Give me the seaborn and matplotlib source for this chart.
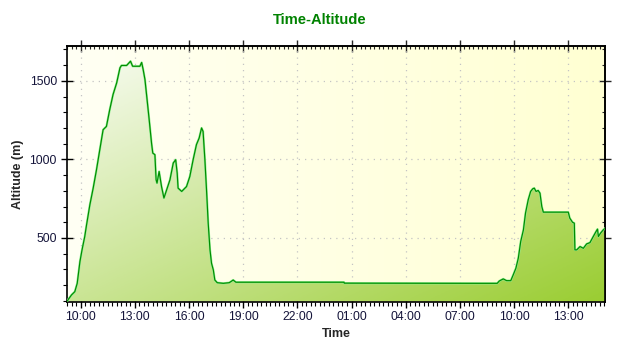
import numpy as np
import pandas as pd
import matplotlib
matplotlib.use("Agg")
import matplotlib.pyplot as plt
import matplotlib.dates as mdates
from matplotlib.colors import LinearSegmentedColormap
from matplotlib.ticker import MultipleLocator, FixedLocator, NullFormatter
import seaborn as sns

# ---------------- data ----------------
times = [
    "2020-06-01 09:14", "2020-06-01 09:30", "2020-06-01 09:41", "2020-06-01 09:49",
    "2020-06-01 09:58", "2020-06-01 10:05", "2020-06-01 10:14", "2020-06-01 10:20",
    "2020-06-01 10:31", "2020-06-01 10:42", "2020-06-01 10:53", "2020-06-01 11:04",
    "2020-06-01 11:15", "2020-06-01 11:26", "2020-06-01 11:37", "2020-06-01 11:48",
    "2020-06-01 12:00", "2020-06-01 12:11", "2020-06-01 12:16", "2020-06-01 12:33",
    "2020-06-01 12:46", "2020-06-01 12:53", "2020-06-01 13:17", "2020-06-01 13:23",
    "2020-06-01 13:28", "2020-06-01 13:34", "2020-06-01 13:41", "2020-06-01 13:48",
    "2020-06-01 13:56", "2020-06-01 14:00", "2020-06-01 14:07", "2020-06-01 14:11",
    "2020-06-01 14:14", "2020-06-01 14:21", "2020-06-01 14:29", "2020-06-01 14:37",
    "2020-06-01 14:46", "2020-06-01 14:57", "2020-06-01 15:08", "2020-06-01 15:16",
    "2020-06-01 15:21", "2020-06-01 15:24", "2020-06-01 15:36", "2020-06-01 15:52",
    "2020-06-01 16:03", "2020-06-01 16:14", "2020-06-01 16:25", "2020-06-01 16:34",
    "2020-06-01 16:42", "2020-06-01 16:47", "2020-06-01 16:53", "2020-06-01 16:59",
    "2020-06-01 17:04", "2020-06-01 17:10", "2020-06-01 17:15", "2020-06-01 17:21",
    "2020-06-01 17:26", "2020-06-01 17:34", "2020-06-01 17:54", "2020-06-01 18:14",
    "2020-06-01 18:27", "2020-06-01 18:36", "2020-06-02 00:35", "2020-06-02 00:36",
    "2020-06-02 08:07", "2020-06-02 09:04", "2020-06-02 09:11", "2020-06-02 09:24",
    "2020-06-02 09:35", "2020-06-02 09:49", "2020-06-02 09:57", "2020-06-02 10:06",
    "2020-06-02 10:14", "2020-06-02 10:22", "2020-06-02 10:31", "2020-06-02 10:38",
    "2020-06-02 10:47", "2020-06-02 10:55", "2020-06-02 11:02", "2020-06-02 11:07",
    "2020-06-02 11:13", "2020-06-02 11:20", "2020-06-02 11:26", "2020-06-02 11:32",
    "2020-06-02 11:37", "2020-06-02 13:00", "2020-06-02 13:05", "2020-06-02 13:14",
    "2020-06-02 13:20", "2020-06-02 13:22", "2020-06-02 13:28", "2020-06-02 13:39",
    "2020-06-02 13:50", "2020-06-02 14:01", "2020-06-02 14:12", "2020-06-02 14:23",
    "2020-06-02 14:32", "2020-06-02 14:37", "2020-06-02 14:40", "2020-06-02 14:47",
    "2020-06-02 14:56", "2020-06-02 15:03",
]
altitude = [
    94, 137, 158, 211,
    349, 424, 509, 583,
    711, 817, 934, 1062,
    1189, 1210, 1317, 1413,
    1487, 1583, 1598, 1598,
    1625, 1593, 1593, 1617,
    1572, 1508, 1381, 1253,
    1100, 1040, 1030, 870,
    849, 923, 827, 754,
    806, 870, 977, 998,
    913, 817, 796, 827,
    891, 998, 1094, 1136,
    1200, 1178, 998, 785,
    594, 424, 339, 296,
    232, 215, 211, 215,
    232, 218, 218, 212,
    211, 211, 226, 239,
    228, 228, 264, 307,
    371, 477, 551, 658,
    743, 796, 813, 817,
    796, 802, 785, 700,
    664, 664, 626, 600,
    594, 424, 424, 445,
    434, 462, 470, 509,
    540, 556, 509, 530,
    551, 562,
]
x_start, x_end = "2020-06-01 09:14", "2020-06-02 15:03"
y_min, y_max = 94, 1722
major_hours = [1, 4, 7, 10, 13, 16, 19, 22]

df = pd.DataFrame({"Time": pd.to_datetime(times), "Altitude": altitude})

# ---------------- style ----------------
sns.set_style("ticks")
plt.rcParams["font.family"] = ["Liberation Sans", "DejaVu Sans"]

fig = plt.figure(figsize=(6.4, 3.5), dpi=100)
ax = fig.add_axes([0.1042, 0.138, 0.8416, 0.7306])

# lines (also sets date units)
sns.lineplot(data=df, x="Time", y="Altitude", color="#90ee90", lw=1.6, ax=ax, zorder=3)
sns.lineplot(data=df, x="Time", y="Altitude", color="#008c00", lw=0.85, ax=ax, zorder=4)

xl = mdates.date2num(pd.Timestamp(x_start))
xr = mdates.date2num(pd.Timestamp(x_end))

# background gradient
bg = np.linspace(0, 1, 256)[None, :]
bg_cmap = LinearSegmentedColormap.from_list("bg", ["#fffff4", "#ffffd2"])
ax.imshow(bg, extent=[xl, xr, y_min, y_max], origin="lower", aspect="auto",
          cmap=bg_cmap, zorder=0, interpolation="bilinear")

# gradient fill under curve
X, Y = np.meshgrid(np.linspace(0, 1, 400), np.linspace(0, 1, 250))
S = (X + (1 - Y)) / 2
fill_cmap = LinearSegmentedColormap.from_list("fill", ["#fbfdf8", "#9acd32"])
im = ax.imshow(S, extent=[xl, xr, y_min, y_max], origin="lower", aspect="auto",
               cmap=fill_cmap, zorder=1, interpolation="bilinear")
poly = ax.fill_between(df["Time"], df["Altitude"], y_min, facecolor="none",
                       edgecolor="none", zorder=1)
im.set_clip_path(poly.get_paths()[0], transform=ax.transData)

ax.set_xlim(xl, xr)
ax.set_ylim(y_min, y_max)

# ticks
ax.xaxis.set_major_locator(mdates.HourLocator(byhour=major_hours))
ax.xaxis.set_minor_locator(mdates.MinuteLocator(byminute=[0, 15, 30, 45]))
ax.xaxis.set_major_formatter(mdates.DateFormatter("%H:%M"))
ax.yaxis.set_major_locator(MultipleLocator(500))
ax.yaxis.set_minor_locator(MultipleLocator(100))

ax.tick_params(which="major", direction="inout", length=9, width=1.0,
               color="black", labelcolor="#14143a", labelsize=8.7, pad=2.5)
ax.tick_params(which="minor", direction="out", length=3, width=0.8, color="black")

ax.grid(True, which="major", color="#c4c4c4", linestyle=(0, (1, 4)), lw=0.9)
ax.set_axisbelow(True)

for s in ax.spines.values():
    s.set_color("black")
    s.set_linewidth(1.2)

# top / right ticks
secx = ax.secondary_xaxis("top")
secx.xaxis.set_major_locator(FixedLocator(ax.get_xticks()))
secx.xaxis.set_minor_locator(FixedLocator(ax.get_xticks(minor=True)))
secx.xaxis.set_major_formatter(NullFormatter())
secx.tick_params(which="major", direction="inout", length=8, width=1.0)
secx.tick_params(which="minor", direction="in", length=2.5, width=0.8)
secy = ax.secondary_yaxis("right")
secy.yaxis.set_major_locator(FixedLocator(ax.get_yticks()))
secy.yaxis.set_minor_locator(FixedLocator(ax.get_yticks(minor=True)))
secy.yaxis.set_major_formatter(NullFormatter())
secy.tick_params(which="major", direction="inout", length=8, width=1.0)
secy.tick_params(which="minor", direction="in", length=2.5, width=0.8)
for sa in (secx, secy):
    for s in sa.spines.values():
        s.set_linewidth(1.2)
        s.set_color("black")

ax.set_xlabel("Time", fontsize=9, fontweight="bold", labelpad=3)
ax.set_ylabel("Altitude (m)", fontsize=9, fontweight="bold", labelpad=4)

fig.text(0.5, 0.9306, "Time-Altitude", ha="center", va="baseline",
         fontsize=10.6, fontweight="bold", color="#008200")

fig.savefig("out.png", dpi=100, facecolor="white")
